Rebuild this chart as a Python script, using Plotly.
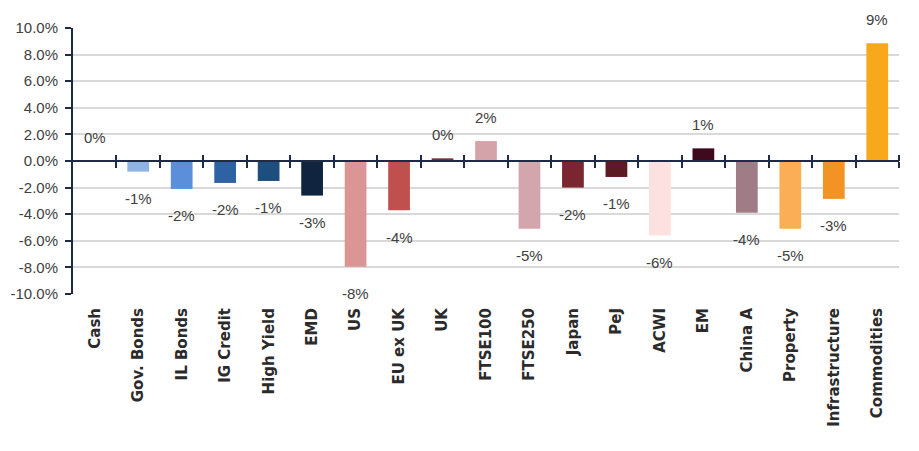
import plotly.graph_objects as go

categories = ["Cash", "Gov. Bonds", "IL Bonds", "IG Credit", "High Yield", "EMD", "US",
              "EU ex UK", "UK", "FTSE100", "FTSE250", "Japan", "PeJ", "ACWI", "EM",
              "China A", "Property", "Infrastructure", "Commodities"]
values = [0.0, -0.8, -2.1, -1.65, -1.5, -2.6, -7.95, -3.7, 0.2, 1.5, -5.1, -2.0, -1.2,
          -5.6, 0.95, -3.9, -5.1, -2.85, 8.85]
labels = ["0%", "-1%", "-2%", "-2%", "-1%", "-3%", "-8%", "-4%", "0%", "2%", "-5%", "-2%",
          "-1%", "-6%", "1%", "-4%", "-5%", "-3%", "9%"]
colors = ["#7fa6d8", "#8fb4e3", "#5b8fd9", "#2f62a3", "#1d4e7e", "#10243f", "#d99694",
          "#c0504d", "#7b2c36", "#d4a3aa", "#d3a6ae", "#7a2630", "#5c1a22", "#fde0e0",
          "#3d0a1e", "#a07d86", "#fbae55", "#f39324", "#f7a81b"]
y_ticks = [-10, -8, -6, -4, -2, 0, 2, 4, 6, 8, 10]

x = list(range(len(categories)))
label_font = dict(family="Liberation Sans, Arial, sans-serif", size=15, color="#404040")

fig = go.Figure()
fig.add_trace(go.Bar(x=x, y=values, marker=dict(color=colors, line=dict(width=0)),
                     width=0.5, hoverinfo="skip", showlegend=False))

for xi, v, t in zip(x, values, labels):
    fig.add_annotation(x=xi, y=v, text=t, showarrow=False, xref="x", yref="y",
                       yshift=24 if v >= 0 else -27, font=label_font)

boundaries = [i + 0.5 for i in range(len(categories))]
xr = [-0.5, len(categories) - 0.5]

fig.update_layout(
    width=919, height=451,
    margin=dict(l=65, r=28, t=20, b=165),
    plot_bgcolor="white", paper_bgcolor="white",
    xaxis=dict(range=xr, tickmode="array", tickvals=x, automargin=False,
               ticktext=categories, tickangle=-90, showgrid=False, zeroline=False,
               showline=False, ticks="", ticklen=0, ticklabelstandoff=10,
               tickfont=dict(family="DejaVu Sans, sans-serif", size=15, color="#2b2b2b",
                             weight="bold")),
    xaxis2=dict(overlaying="x", anchor="free", position=0.5, side="bottom", automargin=False,
                range=xr, tickmode="array", tickvals=boundaries,
                showticklabels=False, showgrid=False, zeroline=False, showline=True,
                linecolor="#1f2a44", linewidth=2, ticks="outside", ticklen=6,
                tickwidth=2, tickcolor="#1f2a44"),
    xaxis3=dict(overlaying="x", anchor="free", position=0.5, side="top", automargin=False,
                range=xr, tickmode="array", tickvals=boundaries,
                showticklabels=False, showgrid=False, zeroline=False, showline=False,
                ticks="outside", ticklen=6, tickwidth=2, tickcolor="#1f2a44"),
    yaxis=dict(range=[-10, 10], tickmode="array", tickvals=y_ticks, automargin=False,
               ticktext=[f"{v:.1f}%" for v in y_ticks], showgrid=True,
               gridcolor="#d9d9d9", gridwidth=1.5, zeroline=False, showline=True,
               linecolor="#1f2a44", linewidth=2, ticks="outside", ticklen=6,
               tickwidth=2, tickcolor="#1f2a44", ticklabelstandoff=4,
               tickfont=dict(family="Liberation Sans, Arial, sans-serif",
                             size=15, color="#404040")),
)
fig.add_trace(go.Scatter(x=[None], y=[None], xaxis="x2", showlegend=False, hoverinfo="skip"))
fig.add_trace(go.Scatter(x=[None], y=[None], xaxis="x3", showlegend=False, hoverinfo="skip"))

fig.write_html("out.html")
